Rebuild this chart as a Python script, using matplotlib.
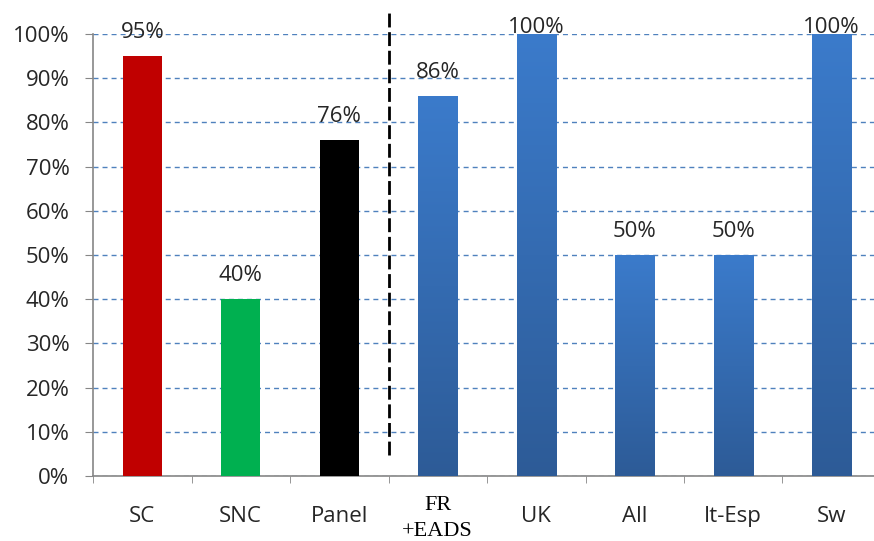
import matplotlib
matplotlib.use("Agg")
import matplotlib.pyplot as plt
import numpy as np
from matplotlib.colors import LinearSegmentedColormap

categories = ["SC", "SNC", "Panel", "FR\n+EADS", "UK", "All", "It-Esp", "Sw"]
values = [95, 40, 76, 86, 100, 50, 50, 100]
value_labels = ["95%", "40%", "76%", "86%", "100%", "50%", "50%", "100%"]
yticks = [0, 10, 20, 30, 40, 50, 60, 70, 80, 90, 100]
ytick_labels = ["0%", "10%", "20%", "30%", "40%", "50%", "60%", "70%", "80%", "90%", "100%"]

solid_colors = {0: "#C00000", 1: "#00B050", 2: "#000000"}
blue_cmap = LinearSegmentedColormap.from_list("blue_grad", ["#2D5B97", "#3B7BCB"])

SANS = "Open Sans"
TXT = "#262626"

W, H = 874, 541
fig = plt.figure(figsize=(W / 100, H / 100), dpi=100)
ax = fig.add_axes([93 / W, 1 - 476 / H, 788 / W, (476 - 34) / H])

x = np.arange(len(categories))
bar_w = 0.4
bars = ax.bar(x, values, width=bar_w, zorder=3)

grad = np.linspace(0, 1, 256).reshape(-1, 1)
for i, b in enumerate(bars):
    if i in solid_colors:
        b.set_facecolor(solid_colors[i])
        b.set_edgecolor("none")
    else:
        b.set_facecolor("none")
        b.set_edgecolor("none")
        im = ax.imshow(grad, cmap=blue_cmap, origin="lower", aspect="auto",
                       extent=[b.get_x(), b.get_x() + b.get_width(), 0, b.get_height()],
                       zorder=3)
        im.set_clip_path(b)

# value labels sit above each bar, but never above the plot top
for xi, v, lab in zip(x, values, value_labels):
    ax.text(xi, min(v + 4.1, 100.3), lab, ha="center", va="baseline",
            fontsize=16, fontfamily=SANS, color=TXT, zorder=5, clip_on=False)

ax.set_xlim(-0.5, len(categories) - 0.5)
ax.set_ylim(0, 100)
ax.set_yticks(yticks)
ax.set_yticklabels(ytick_labels, fontsize=16, fontfamily=SANS, color=TXT)
ax.yaxis.grid(True, linestyle=(0, (3.6, 2.9)), color="#4F81BD", linewidth=1.0, zorder=0)
ax.set_axisbelow(True)

ax.set_xticks(x)
ax.set_xticklabels([])
ax.set_xticks(np.arange(len(categories) + 1) - 0.5, minor=True)
ax.tick_params(axis="x", which="major", length=0, pad=0)
ax.tick_params(axis="x", which="minor", length=5, color="#868686", direction="out")
ax.tick_params(axis="y", length=6, color="#868686", direction="out", pad=11)

for xi, cat in zip(x, categories):
    if "\n" in cat:
        # two-line label in a serif face, lines placed individually
        for k, line in enumerate(cat.split("\n")):
            ax.text(xi, -4.6 - 5.7 * k, line, ha="center", va="top", fontsize=16,
                    fontfamily="Liberation Serif", color="#000000", clip_on=False)
    else:
        ax.text(xi, -6.9, cat, ha="center", va="top", fontsize=16,
                fontfamily=SANS, color=TXT, clip_on=False)

for side in ["top", "right"]:
    ax.spines[side].set_visible(False)
for side in ["left", "bottom"]:
    ax.spines[side].set_color("#868686")
    ax.spines[side].set_linewidth(1.2)

# separator between the summary groups and the country bars
ax.plot([2.5, 2.5], [4.8, 105.5], color="black", linestyle=(0, (5, 1.7)),
        linewidth=2, clip_on=False, zorder=4)

fig.savefig("out.png", dpi=100)
